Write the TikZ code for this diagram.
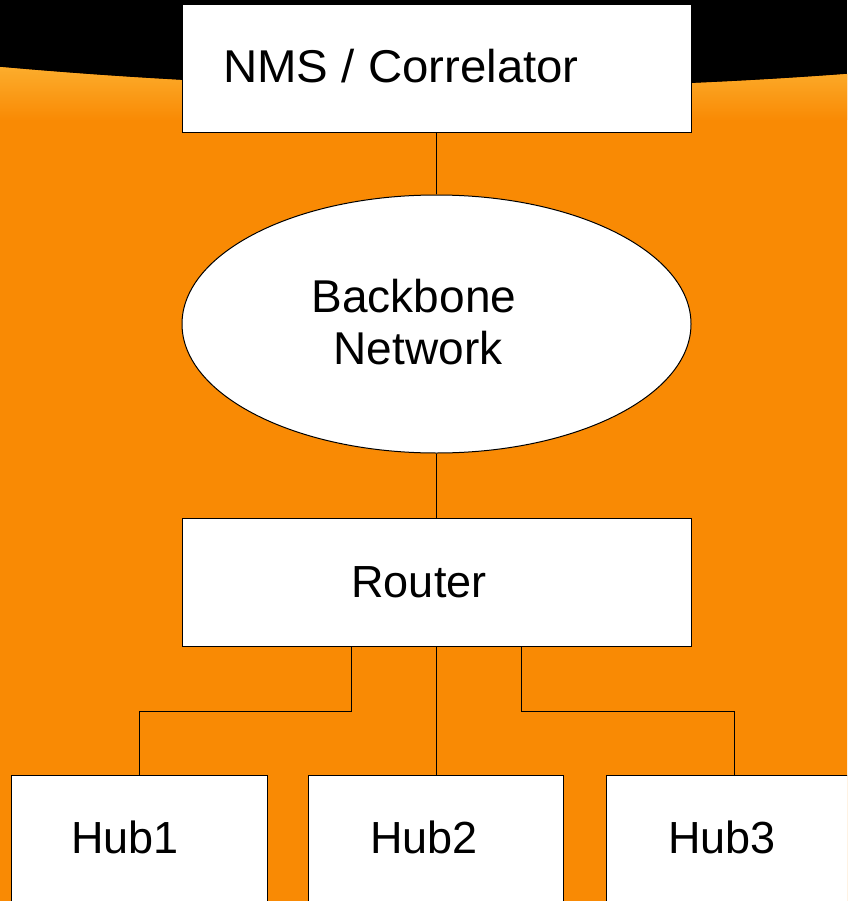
\documentclass[tikz,border=0pt]{standalone}
\usepackage{fontspec}
\setmainfont{Liberation Sans}
\usetikzlibrary{shapes.geometric}
\definecolor{bgorange}{RGB}{249,138,4}
\definecolor{edgeorange}{RGB}{252,176,48}
\tikzset{
  box/.style={draw=black, line width=1pt, fill=white, rectangle, inner sep=0pt},
  cloud/.style={draw=black, line width=1pt, fill=white, ellipse, inner sep=0pt, minimum width=509pt, minimum height=258pt},
  lbl/.style={inner sep=0pt, anchor=base, font=\fontsize{45}{45}\selectfont},
  biglbl/.style={inner sep=0pt, anchor=base, font=\fontsize{46}{46}\selectfont},
  wire/.style={draw=black, line width=1pt}
}
\begin{document}
\begin{tikzpicture}[x=1pt,y=-1pt]
\useasboundingbox (0,0) rectangle (847,901);
\clip (0,0) rectangle (847,901);
% background
\fill[black] (0,0) rectangle (847,901);
\path[fill=bgorange] (0,67) .. controls (280,92) and (567,95) .. (847,74) -- (847,901) -- (0,901) -- cycle;
\begin{scope}
\clip (0,67) .. controls (280,92) and (567,95) .. (847,74) -- (847,130) -- (0,130) -- cycle;
\shade[top color=edgeorange, bottom color=bgorange] (0,62) rectangle (847,120);
\end{scope}
% nodes
\node[box, minimum width=509pt, minimum height=128pt] (nms) at (436.5,69) {};
\node[cloud] (bb) at (436.5,324) {};
\node[box, minimum width=509pt, minimum height=128pt] (router) at (436.5,582) {};
\node[box, minimum width=256pt, minimum height=200pt] (hub1) at (139,875) {};
\node[box, minimum width=255pt, minimum height=200pt] (hub2) at (435.5,875) {};
\node[box, minimum width=256pt, minimum height=200pt] (hub3) at (734,875) {};
% labels
\node[biglbl] (nmst) at (401,83) {\scalebox{1.03}[1]{NMS / Correlator}};
\node[biglbl] (bbt1) at (414,312) {Backbone};
\node[biglbl] (bbt2) at (418,364) {Network};
\node[lbl] (rt) at (419,597) {Router};
\node[lbl] (h1t) at (125,853) {Hub1};
\node[lbl] (h2t) at (424,853) {Hub2};
\node[lbl] (h3t) at (722,853) {Hub3};
% connectors
\draw[wire] (nms.south) -- (bb.north);
\draw[wire] (bb.south) -- (router.north);
\draw[wire] ([xshift=-85.5pt]router.south) -- ++(0,65) -| (hub1.north);
\draw[wire] (router.south) -- (router.south |- hub2.north);
\draw[wire] ([xshift=84.5pt]router.south) -- ++(0,65) -| (hub3.north);
\end{tikzpicture}
\end{document}
